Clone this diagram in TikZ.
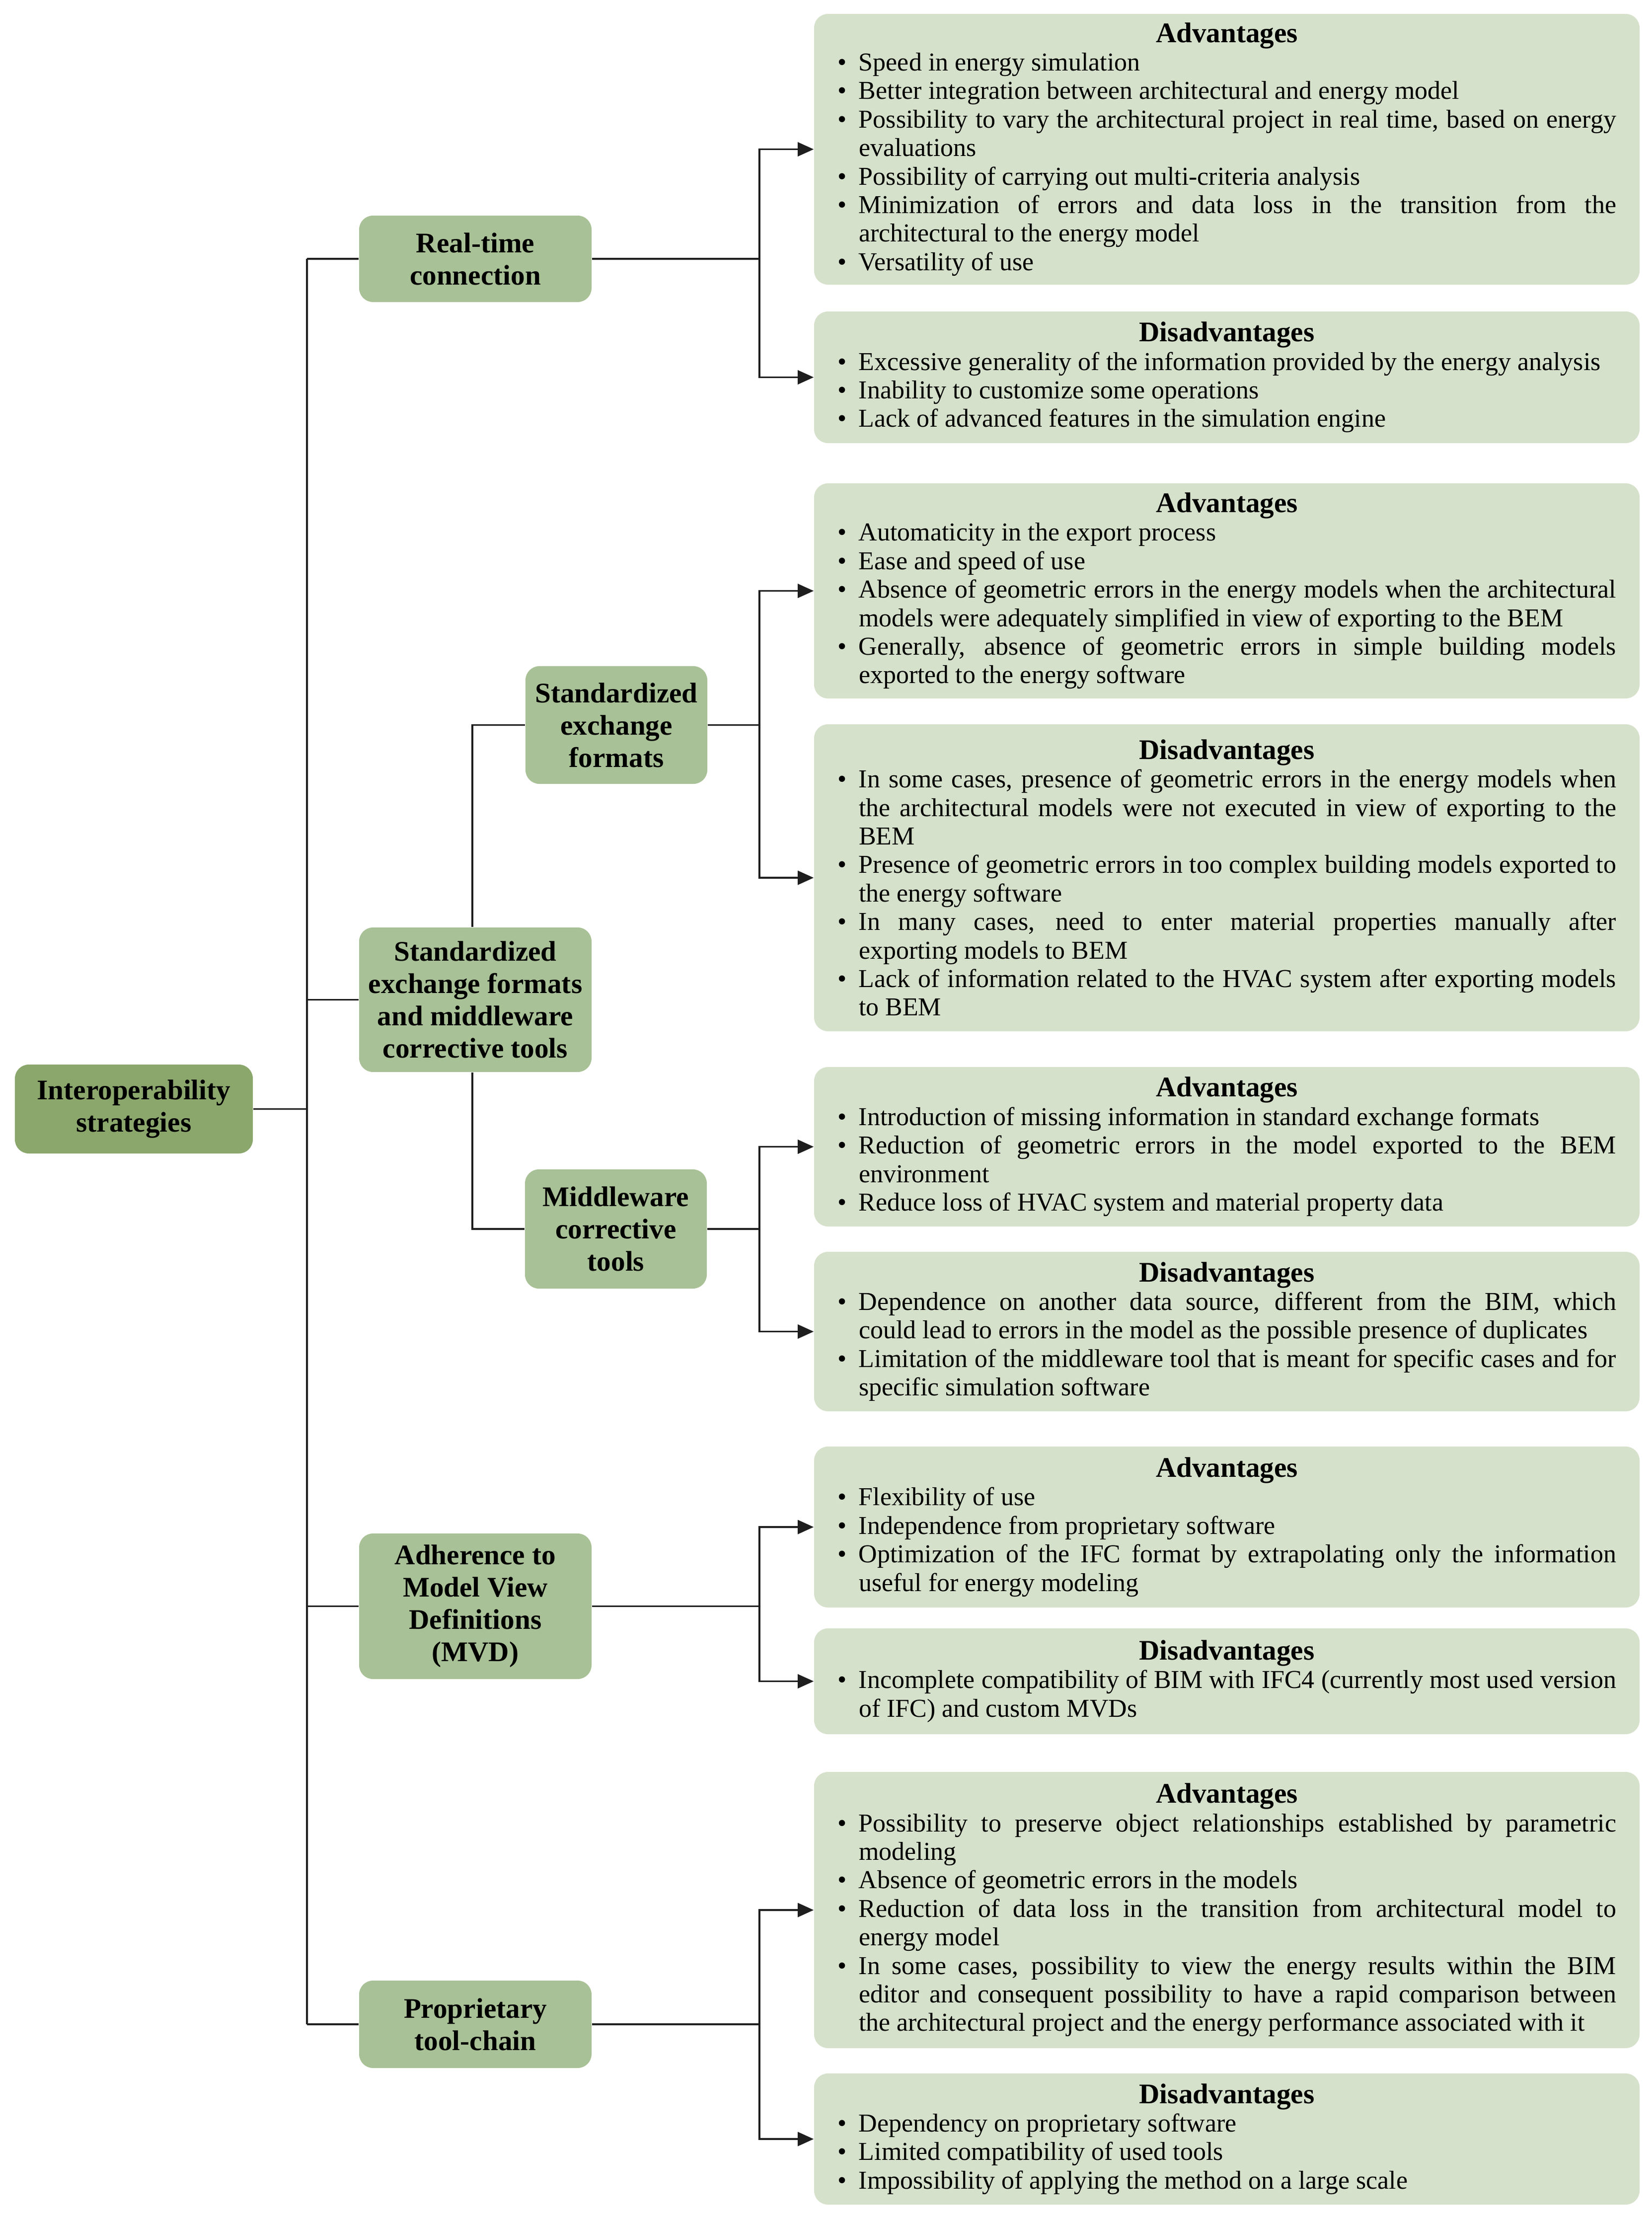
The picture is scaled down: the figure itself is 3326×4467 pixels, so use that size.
\documentclass[tikz,border=0pt]{standalone}
\usepackage{fontspec}
\setmainfont{Liberation Serif}
\usetikzlibrary{arrows.meta}
\definecolor{rootgreen}{RGB}{139,167,108}
\definecolor{lvlgreen}{RGB}{169,193,150}
\definecolor{boxgreen}{RGB}{214,225,203}
\definecolor{linecol}{RGB}{30,30,30}
\newcommand\myBody{\fontsize{13.0}{14.35}\selectfont}
\newcommand\myHead{\fontsize{14.3}{15.5}\selectfont\bfseries}
\newcommand\itm{\par\noindent\hangindent=10.75pt\hangafter=1\makebox[10.75pt][l]{\textbullet}\ignorespaces}
\newcommand\infotxt[2]{\hyphenpenalty=10000\exhyphenpenalty=10000\tolerance=9999\emergencystretch=20pt{\centering\myHead #1\par}\myBody #2\par}
\begin{document}
\begin{tikzpicture}[x=0.25pt,y=-0.25pt,
  ln/.style={draw=linecol, line width=0.9pt},
  arr/.style={ln, -{Triangle[length=8pt,width=7pt]}},
  info/.style={fill=boxgreen, rounded corners=7pt, text width=392pt, align=justify, minimum width=415.5pt, inner sep=0pt, text=black},
  lvl/.style={fill=lvlgreen, rounded corners=7pt, align=center, inner sep=0pt, text=black, font=\fontsize{14.3}{16.25}\selectfont\bfseries},
  rootbox/.style={lvl, fill=rootgreen}]
\fill[white] (0,0) rectangle (3326,4467);
\useasboundingbox (0,0) rectangle (3326,4467);

% helper coordinates for the vertical rails
\coordinate (t) at (618,0);
\coordinate (v2) at (951,0);
\coordinate (b) at (1529,0);

% root and strategy nodes
\node[rootbox, minimum width=119.75pt, minimum height=44.75pt] (root) at (269.5,2232.5) {Interoperability\\strategies};
\node[lvl, minimum width=117pt, minimum height=43.5pt] (rt) at (957,521) {Real-time\\connection};
\node[lvl, minimum width=117pt, minimum height=72.75pt] (sefmw) at (957,2012.5) {Standardized\\exchange formats\\and middleware\\corrective tools};
\node[lvl, minimum width=117pt, minimum height=73.25pt] (mvd) at (957,3233.5) {Adherence to\\Model View\\Definitions\\(MVD)};
\node[lvl, minimum width=117pt, minimum height=44pt] (pt) at (957,4075) {Proprietary\\tool-chain};
\node[lvl, minimum width=91.5pt, minimum height=59.25pt] (sef) at (1241,1459.5) {Standardized\\exchange\\formats};
\node[lvl, minimum width=91.5pt, minimum height=60pt] (mw) at (1240,2474) {Middleware\\corrective\\tools};

% advantage / disadvantage boxes
\node[info, minimum height=136.25pt] (rtadv) at (2470,300.5) {\infotxt{Advantages}{%
\itm Speed in energy simulation
\itm Better integration between architectural and energy model
\itm Possibility to vary the architectural project in real time, based on energy\linebreak evaluations
\itm Possibility of carrying out multi-criteria analysis
\itm Minimization of errors and data loss in the transition from the\linebreak architectural to the energy model
\itm Versatility of use}};
\node[info, minimum height=66.25pt] (rtdis) at (2470,759.5) {\infotxt{Disadvantages}{%
\itm Excessive generality of the information provided by the energy analysis
\itm Inability to customize some operations
\itm Lack of advanced features in the simulation engine}};
\node[info, minimum height=108.25pt] (sefadv) at (2470,1189.5) {\infotxt{Advantages}{%
\itm Automaticity in the export process
\itm Ease and speed of use
\itm Absence of geometric errors in the energy models when the architectural\linebreak models were adequately simplified in view of exporting to the BEM
\itm Generally, absence of geometric errors in simple building models\linebreak exported to the energy software}};
\node[info, minimum height=154.5pt] (sefdis) at (2470,1767) {\infotxt{Disadvantages}{%
\itm In some cases, presence of geometric errors in the energy models when\linebreak the architectural models were not executed in view of exporting to the\linebreak BEM
\itm Presence of geometric errors in too complex building models exported to\linebreak the energy software
\itm In many cases, need to enter material properties manually after\linebreak exporting models to BEM
\itm Lack of information related to the HVAC system after exporting models\linebreak to BEM}};
\node[info, minimum height=80.25pt] (mwadv) at (2470,2308.5) {\infotxt{Advantages}{%
\itm Introduction of missing information in standard exchange formats
\itm Reduction of geometric errors in the model exported to the BEM\linebreak environment
\itm Reduce loss of HVAC system and material property data}};
\node[info, minimum height=80.25pt] (mwdis) at (2470,2680.5) {\infotxt{Disadvantages}{%
\itm Dependence on another data source, different from the BIM, which\linebreak could lead to errors in the model as the possible presence of duplicates
\itm Limitation of the middleware tool that is meant for specific cases and for\linebreak specific simulation software}};
\node[info, minimum height=81pt] (mvdadv) at (2470,3074) {\infotxt{Advantages}{%
\itm Flexibility of use
\itm Independence from proprietary software
\itm Optimization of the IFC format by extrapolating only the information\linebreak useful for energy modeling}};
\node[info, minimum height=53.25pt] (mvddis) at (2470,3384.5) {\infotxt{Disadvantages}{%
\itm Incomplete compatibility of BIM with IFC4 (currently most used version\linebreak of IFC) and custom MVDs}};
\node[info, minimum height=139pt] (ptadv) at (2470,3845) {\infotxt{Advantages}{%
\itm Possibility to preserve object relationships established by parametric\linebreak modeling
\itm Absence of geometric errors in the models
\itm Reduction of data loss in the transition from architectural model to\linebreak energy model
\itm In some cases, possibility to view the energy results within the BIM\linebreak editor and consequent possibility to have a rapid comparison between\linebreak the architectural project and the energy performance associated with it}};
\node[info, minimum height=66pt] (ptdis) at (2470,4306) {\infotxt{Disadvantages}{%
\itm Dependency on proprietary software
\itm Limited compatibility of used tools
\itm Impossibility of applying the method on a large scale}};

% trunk
\draw[ln] (root.east) -- (root.east -| t);
\draw[ln] (rt.west -| t) -- (pt.west -| t);
\foreach \n in {rt,sefmw,mvd,pt} \draw[ln] (\n.west -| t) -- (\n.west);

% second-level rail
\draw[ln] (sef.west) -- (sef.west -| v2) -- (sefmw.north -| v2);
\draw[ln] (sefmw.south -| v2) -- (mw.west -| v2) -- (mw.west);

% branches to the advantage / disadvantage boxes
\foreach \s/\a/\d in {rt/rtadv/rtdis, sef/sefadv/sefdis, mw/mwadv/mwdis, mvd/mvdadv/mvddis, pt/ptadv/ptdis}{
  \draw[ln] (\s.east) -- (\s.east -| b);
  \draw[arr] (\s.east -| b) |- (\a.west);
  \draw[arr] (\s.east -| b) |- (\d.west);
}
\end{tikzpicture}
\end{document}
